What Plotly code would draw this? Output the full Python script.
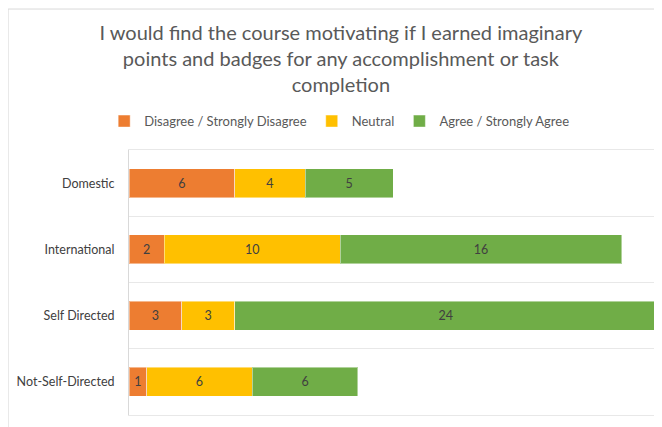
import plotly.graph_objects as go

# ---------------------------
# Data
# ---------------------------
groups = ["Domestic", "International", "Self Directed", "Not-Self-Directed"]
disagree = [6, 2, 3, 1]
neutral = [4, 10, 3, 6]
agree = [5, 16, 24, 6]

series_names = ["Disagree / Strongly Disagree", "Neutral", "Agree / Strongly Agree"]
series_values = [disagree, neutral, agree]
series_colors = ["#ED7D31", "#FFC000", "#70AD47"]

title_text = ("I would find the course motivating if I earned imaginary<br>"
              "points and badges for any accomplishment or task<br>completion")

# ---------------------------
# Figure
# ---------------------------
fig = go.Figure()

for name, vals, col in zip(series_names, series_values, series_colors):
    fig.add_trace(go.Bar(
        y=groups,
        x=vals,
        name=name,
        orientation="h",
        marker=dict(color=col, line=dict(color="rgba(255,255,255,0.45)", width=1)),
        text=vals,
        textposition="inside",
        insidetextanchor="middle",
        textfont=dict(family="Lato", size=12.5, color="#404040"),
        width=0.44,
    ))

# outer chart frame (Excel style), partly cropped at right/bottom
fig.add_shape(type="line", xref="paper", yref="paper",
              x0=-0.229, x1=-0.229, y0=-0.1, y1=1.532,
              line=dict(color="#D9D9D9", width=1))
fig.add_shape(type="line", xref="paper", yref="paper",
              x0=-0.229, x1=1.1, y0=1.532, y1=1.532,
              line=dict(color="#D9D9D9", width=1))

# page body has an 8px margin, so the figure is sized to fit inside it
fig.update_layout(
    barmode="stack",
    width=654,
    height=419,
    margin=dict(l=121, r=5, t=142, b=12, autoexpand=False),
    paper_bgcolor="white",
    plot_bgcolor="white",
    font=dict(family="Lato", color="#595959"),
    title=dict(
        text=title_text,
        x=0.509,
        xanchor="center",
        y=0.924,
        yref="container",
        yanchor="middle",
        font=dict(family="Lato", size=20, color="#595959"),
    ),
    legend=dict(
        orientation="h",
        x=0.399,
        xanchor="center",
        y=1.109,
        yanchor="middle",
        font=dict(family="Lato", size=13, color="#595959"),
        itemwidth=30,
        traceorder="normal",
    ),
    showlegend=True,
)

# x axis hidden, but its line (mirrored) gives the top/bottom grid lines
fig.update_xaxes(
    range=[0, 30],
    showgrid=False,
    zeroline=False,
    showticklabels=False,
    showline=True,
    mirror=True,
    linecolor="#E8E8E8",
    fixedrange=True,
)

fig.update_yaxes(
    type="category",
    autorange="reversed",
    tickson="boundaries",
    showgrid=True,
    gridcolor="#E8E8E8",
    gridwidth=1,
    showline=True,
    linecolor="#D9D9D9",
    ticks="",
    ticklen=0,
    automargin=False,
    tickfont=dict(family="Lato", size=12.5, color="#404040"),
    ticklabelstandoff=11,
)

fig.write_html("out.html")
